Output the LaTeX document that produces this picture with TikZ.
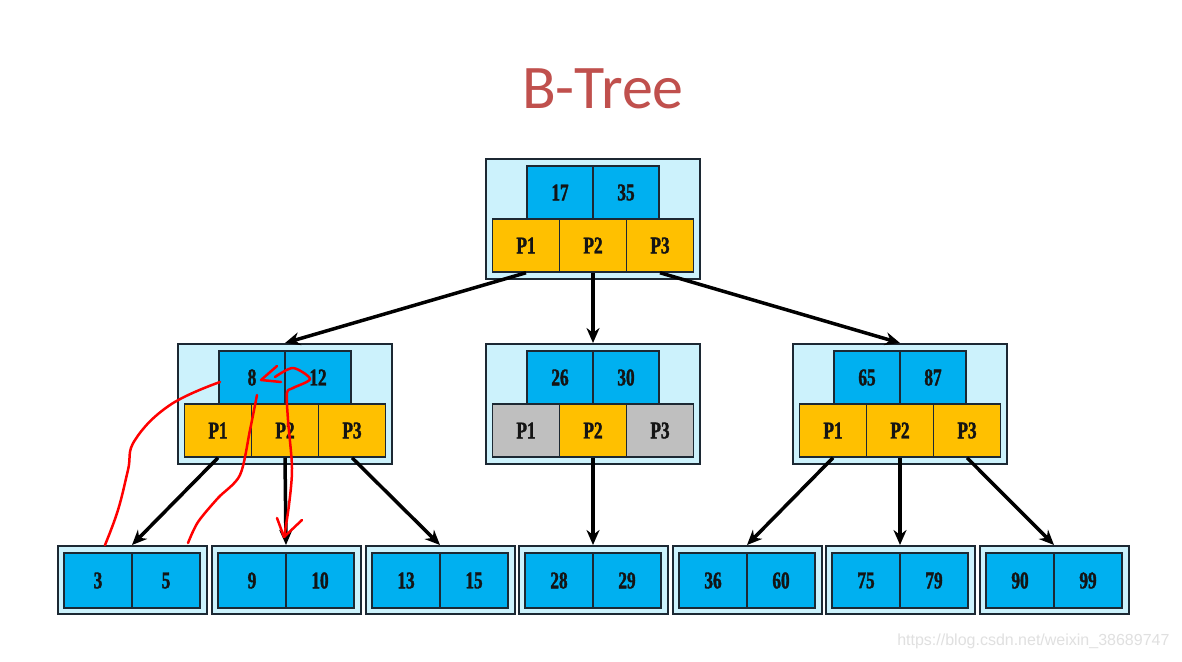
\documentclass[tikz,border=0pt]{standalone}
\usepackage{fontspec}
\setmainfont{Liberation Serif}
\newfontfamily\cellfont[FakeStretch=0.72,FakeBold=1.5]{Liberation Serif}
\newfontfamily\titlefont{Carlito}
\newfontfamily\markfont{Liberation Sans}
\usetikzlibrary{arrows.meta}
\definecolor{boxbg}{HTML}{CCF2FC}
\definecolor{keyblue}{HTML}{00B0F0}
\definecolor{ptryellow}{HTML}{FFC000}
\definecolor{ptrgray}{HTML}{BFBFBF}
\definecolor{titlered}{HTML}{C0504D}
\definecolor{edge}{HTML}{1C2833}
\definecolor{ink}{HTML}{141414}
\tikzset{
  outerbox/.style={draw=edge, fill=boxbg, line width=2pt, minimum width=214pt, minimum height=120pt, inner sep=0pt},
  leafbox/.style={outerbox, minimum width=149pt, minimum height=68pt},
  cell/.style={draw=edge, line width=1.5pt, inner sep=0pt, text=ink, font=\cellfont\fontsize{24}{24}\selectfont\bfseries},
  keycell/.style={cell, fill=keyblue, minimum width=66pt, minimum height=53pt},
  ptrcell/.style={cell, fill=ptryellow, minimum width=67pt, minimum height=53pt},
  deadcell/.style={ptrcell, fill=ptrgray},
  leafcell/.style={keycell, minimum width=68pt, minimum height=55pt},
  arr/.style={-{Stealth[length=15pt,width=13pt]}, line width=3.5pt},
  pen/.style={red, line width=2.5pt, line cap=round, line join=round}
}
\begin{document}
\begin{tikzpicture}[x=1pt, y=-1pt]
    \useasboundingbox[fill=white] (0,0) rectangle (1182,661);
    \node[font=\titlefont\fontsize{62}{62}\selectfont, text=titlered, anchor=base] (title) at (603,108) {B-Tree};

    \node[outerbox] (root) at (593,219) {};
    \node[keycell] (root k1) at (560,192.5) {17};
    \node[keycell] (root k2) at (626,192.5) {35};
    \node[ptrcell] (root p1) at (526,245.5) {P1};
    \node[ptrcell] (root p2) at (593,245.5) {P2};
    \node[ptrcell] (root p3) at (660,245.5) {P3};

    \node[outerbox] (left) at (285,404) {};
    \node[keycell] (left k1) at (252,377.5) {8};
    \node[keycell] (left k2) at (318,377.5) {12};
    \node[ptrcell] (left p1) at (218,430.5) {P1};
    \node[ptrcell] (left p2) at (285,430.5) {P2};
    \node[ptrcell] (left p3) at (352,430.5) {P3};

    \node[outerbox] (mid) at (593,404) {};
    \node[keycell] (mid k1) at (560,377.5) {26};
    \node[keycell] (mid k2) at (626,377.5) {30};
    \node[deadcell] (mid p1) at (526,430.5) {P1};
    \node[ptrcell] (mid p2) at (593,430.5) {P2};
    \node[deadcell] (mid p3) at (660,430.5) {P3};

    \node[outerbox] (right) at (900,404) {};
    \node[keycell] (right k1) at (867,377.5) {65};
    \node[keycell] (right k2) at (933,377.5) {87};
    \node[ptrcell] (right p1) at (833,430.5) {P1};
    \node[ptrcell] (right p2) at (900,430.5) {P2};
    \node[ptrcell] (right p3) at (967,430.5) {P3};

    \foreach \i/\x/\a/\b in {1/132/3/5, 2/286/9/10, 3/440/13/15, 4/593/28/29, 5/747/36/60, 6/900/75/79, 7/1054/90/99} {
        \node[leafbox] (leaf\i) at (\x,580) {};
        \node[leafcell] (leaf\i a) at (\x-34,580.5) {\a};
        \node[leafcell] (leaf\i b) at (\x+34,580.5) {\b};
    }

    \draw[arr] (root p1.south) -- (left.north);
    \draw[arr] (root p2.south) -- (mid.north);
    \draw[arr] (root p3.south) -- (right.north);
    \draw[arr] (left p1.south) -- (leaf1.north);
    \draw[arr] (left p2.south) -- (leaf2.north);
    \draw[arr] (left p3.south) -- (leaf3.north);
    \draw[arr] (mid p2.south) -- (leaf4.north);
    \draw[arr] (right p1.south) -- (leaf5.north);
    \draw[arr] (right p2.south) -- (leaf6.north);
    \draw[arr] (right p3.south) -- (leaf7.north);

    \draw[pen] plot[smooth, tension=0.7] coordinates {(220,382) (170,405) (135,440) (128,470) (118,510) (105,545)};
    \draw[pen] plot[smooth] coordinates {(257,395) (250,430) (240,475) (218,498) (198,522) (188,543)};
    \draw[pen] plot[smooth] coordinates {(275,377) (293,368) (310,379) (293,388) (287,393) (288,420) (292,468) (289,505) (284,537)};
    \draw[pen] (277,366) -- (261,380) -- (281,382);
    \draw[pen] (277,518) -- (284,537) -- (302,520);

    \node[font=\markfont\fontsize{16}{16}\selectfont, text=black!12, anchor=east] (mark) at (1173,641) {https://blog.csdn.net/weixin\_38689747};
\end{tikzpicture}
\end{document}
